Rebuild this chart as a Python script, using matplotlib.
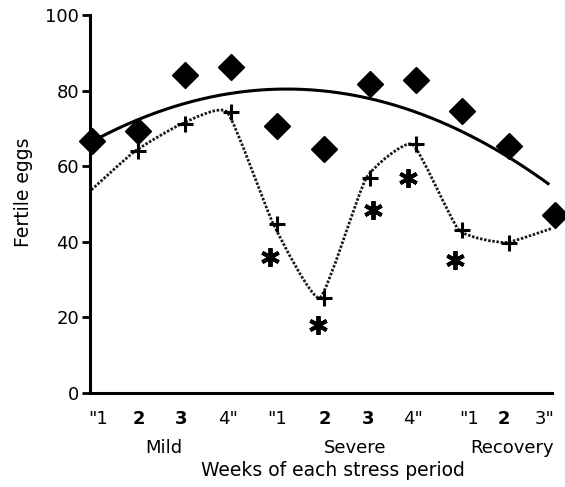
import numpy as np
import matplotlib.pyplot as plt
from matplotlib.path import Path
from matplotlib.patches import PathPatch

plt.rcParams['font.family'] = ['DejaVu Sans']

# weekly fertile eggs, three stress periods
weeks = np.arange(11)
week_labels = ['"1', '2', '3', '4"', '"1', '2', '3', '4"', '"1', '2', '3"']
period_names = ['Mild', 'Severe', 'Recovery']
control = [66.6, 69.3, 84.0, 86.2, 70.6, 64.5, 81.7, 82.8, 74.5, 65.3, 47.2]
stressed = [53.0, 63.9, 71.1, 74.3, 44.6, 25.2, 56.8, 65.8, 43.2, 39.8, 43.5]
# significant differences
sig_x = [3.84, 4.88, 6.07, 6.82, 7.84]
sig_y = [36.0, 18.0, 48.5, 57.0, 35.3]

# layout
label_pos = [0.13, 1.02, 1.92, 2.94, 4.0, 5.03, 5.96, 6.93, 8.14, 8.9, 9.78]
period_pos = [1.56, 5.68, 9.07]
line_shift = -0.08


def smooth_path(xs, ys, k=0.08):
    # cardinal spline through the points (low tension), as cubic bezier segments
    pts = np.column_stack([xs, ys])
    ext = np.vstack([pts[0], pts, pts[-1]])
    verts = [pts[0]]
    codes = [Path.MOVETO]
    for i in range(len(pts) - 1):
        p0, p1, p2, p3 = ext[i], ext[i + 1], ext[i + 2], ext[i + 3]
        verts += [p1 + (p2 - p0) * k, p2 - (p3 - p1) * k, p2]
        codes += [Path.CURVE4] * 3
    return Path(verts, codes)


fig = plt.figure(figsize=(5.65, 4.87), dpi=100)
ax = fig.add_axes([90 / 565, 1 - 393 / 487, 462 / 565, 378 / 487])

# quadratic trend of the control series
coef = np.polyfit(weeks, control, 2)
xt = np.linspace(0, 9.85, 200)
ax.plot(xt, np.polyval(coef, xt), color='black', lw=2.2, zorder=2)

# smoothed dotted line for the stressed birds
dotted = PathPatch(smooth_path(weeks + line_shift, stressed), fill=False,
                   edgecolor='#1a1a1a', lw=2.0, linestyle=(0, (0.9, 0.6)), zorder=2)
ax.add_patch(dotted)

ax.plot(weeks, control, 'D', color='black', ms=13, mew=1, clip_on=False, zorder=3)
ax.plot(weeks[1:10], stressed[1:10], '+', color='black', ms=11, mew=2.2, zorder=4)
ax.plot(sig_x, sig_y, ls='none', marker=(6, 2, 0), color='black', ms=13.5, mew=2.8, zorder=4)

ax.set_xlim(-0.043, 9.935)
ax.set_ylim(0, 100)
for s in ['top', 'right']:
    ax.spines[s].set_visible(False)
for s in ['left', 'bottom']:
    ax.spines[s].set_linewidth(2.2)

ax.set_yticks(range(0, 101, 20))
ax.tick_params(axis='y', length=6, width=2, pad=2, labelsize=13)
ax.set_xticks(label_pos)
ax.set_xticklabels(week_labels)
ax.tick_params(axis='x', length=0, pad=12, labelsize=13)
for t in ax.get_xticklabels():
    if t.get_text() in ('2', '3'):
        t.set_fontweight('bold')

trans = ax.get_xaxis_transform()
for name, xp in zip(period_names, period_pos):
    ax.text(xp, -0.1455, name, transform=trans, ha='center', va='center', fontsize=13)

ax.text(0.526, -0.206, 'Weeks of each stress period', transform=ax.transAxes,
        ha='center', va='center', fontsize=13.5)
ax.text(-0.145, 0.532, 'Fertile eggs', transform=ax.transAxes, rotation=90,
        ha='center', va='center', fontsize=13.5)

fig.savefig('out.png', dpi=100)
